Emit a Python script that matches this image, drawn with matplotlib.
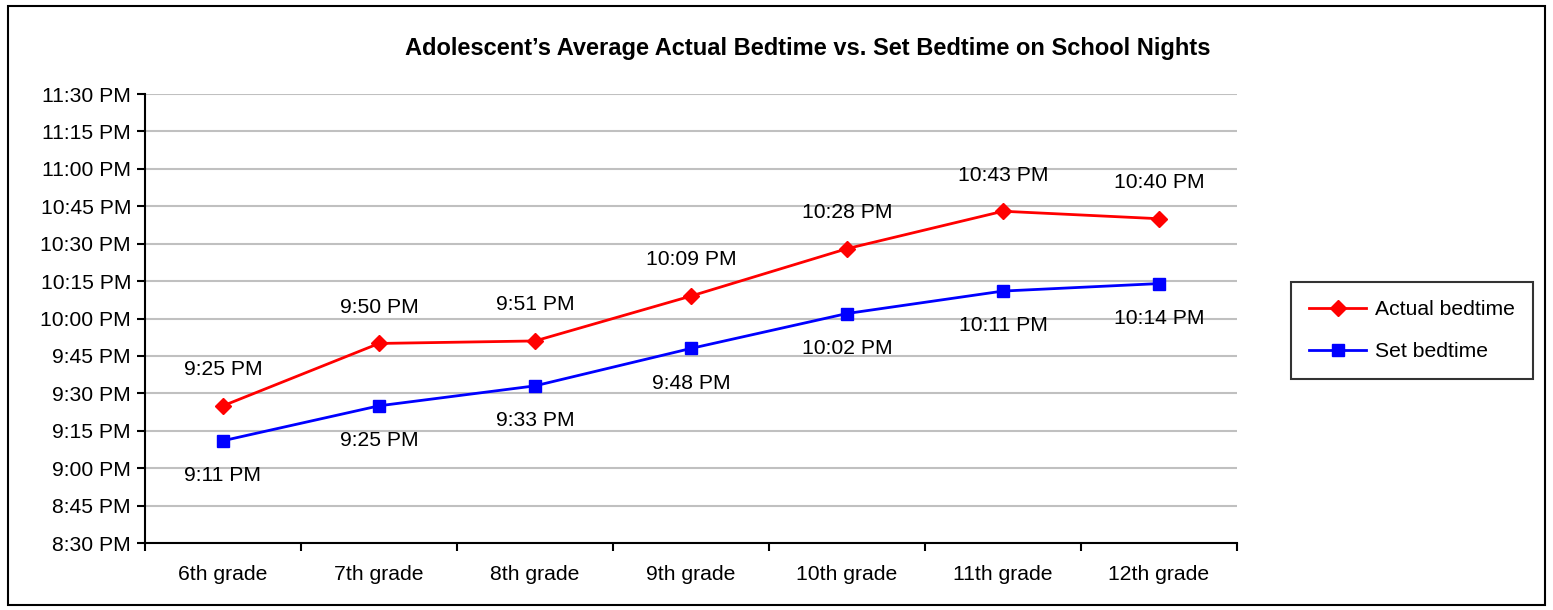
import matplotlib
matplotlib.use('Agg')
import matplotlib.pyplot as plt
import matplotlib.patches as patches
from matplotlib.ticker import FixedLocator, FuncFormatter

plt.rcParams['font.family'] = ['Liberation Sans', 'DejaVu Sans']

grades = ['6th grade', '7th grade', '8th grade', '9th grade', '10th grade', '11th grade', '12th grade']
actual_bedtime = ['9:25 PM', '9:50 PM', '9:51 PM', '10:09 PM', '10:28 PM', '10:43 PM', '10:40 PM']
set_bedtime = ['9:11 PM', '9:25 PM', '9:33 PM', '9:48 PM', '10:02 PM', '10:11 PM', '10:14 PM']


def to_minutes(s):
    # "9:25 PM" -> minutes after midnight
    hm = s.split()[0]
    h, m = [int(v) for v in hm.split(':')]
    if s.endswith('PM') and h != 12:
        h += 12
    return h * 60 + m


def fmt_time(v, pos=None):
    v = int(round(v))
    h, m = divmod(v, 60)
    suffix = 'PM' if h >= 12 else 'AM'
    h12 = h - 12 if h > 12 else h
    return '%d:%02d %s' % (h12, m, suffix)


actual_min = [to_minutes(t) for t in actual_bedtime]
set_min = [to_minutes(t) for t in set_bedtime]
xs = list(range(len(grades)))

W, H = 1553, 610
fig = plt.figure(figsize=(W / 100, H / 100), dpi=100)
ax = fig.add_axes([145 / W, (H - 543) / H, 1092 / W, 449 / H])

fs = 15.2

ax.plot(xs, actual_min, color='#ff0000', lw=2, marker='D', markersize=8.5,
        label='Actual bedtime', zorder=3)
ax.plot(xs, set_min, color='#0000ff', lw=2, marker='s', markersize=8.5,
        label='Set bedtime', zorder=3)

for x, y, t in zip(xs, actual_min, actual_bedtime):
    ax.annotate(t, (x, y), xytext=(0, 26), textcoords='offset points',
                ha='center', va='center', fontsize=fs)
for x, y, t in zip(xs, set_min, set_bedtime):
    ax.annotate(t, (x, y), xytext=(0, -25), textcoords='offset points',
                ha='center', va='center', fontsize=fs)

ymin, ymax = to_minutes('8:30 PM'), to_minutes('11:30 PM')
ax.set_ylim(ymin, ymax)
ax.set_xlim(-0.5, len(grades) - 0.5)
ax.yaxis.set_major_locator(FixedLocator(list(range(ymin, ymax + 1, 15))))
ax.yaxis.set_major_formatter(FuncFormatter(fmt_time))
ax.yaxis.grid(True, color='#c0c0c0', lw=1.5)
ax.set_axisbelow(True)

ax.set_xticks([i - 0.5 for i in range(len(grades) + 1)])
ax.set_xticklabels([])
ax.set_xticks(xs, minor=True)
ax.set_xticklabels(grades, minor=True)
ax.tick_params(axis='x', which='minor', length=0, pad=16, labelsize=fs)
ax.tick_params(axis='x', which='major', length=6, width=1.5, direction='out')
ax.tick_params(axis='y', length=6, width=1.5, direction='out', labelsize=fs, pad=4)

for side in ['top', 'right']:
    ax.spines[side].set_visible(False)
for side in ['left', 'bottom']:
    ax.spines[side].set_linewidth(1.5)

fig.text(808 / W, 1 - 48 / H, 'Adolescent\u2019s Average Actual Bedtime vs. Set Bedtime on School Nights',
         ha='center', va='center', fontsize=17, fontweight='bold')

leg = fig.legend(loc='center', bbox_to_anchor=(1412 / W, 1 - 330.5 / H), fontsize=fs,
                 frameon=True, fancybox=False, edgecolor='black', handlelength=2.7,
                 labelspacing=1.1, borderpad=0.85, handletextpad=0.4, borderaxespad=0)
leg.get_frame().set_linewidth(1.5)

border = patches.Rectangle((8 / W, 5 / H), 1537 / W, 599 / H, transform=fig.transFigure,
                           fill=False, edgecolor='black', lw=1.5)
fig.patches.append(border)

fig.savefig('out.png', dpi=100)
